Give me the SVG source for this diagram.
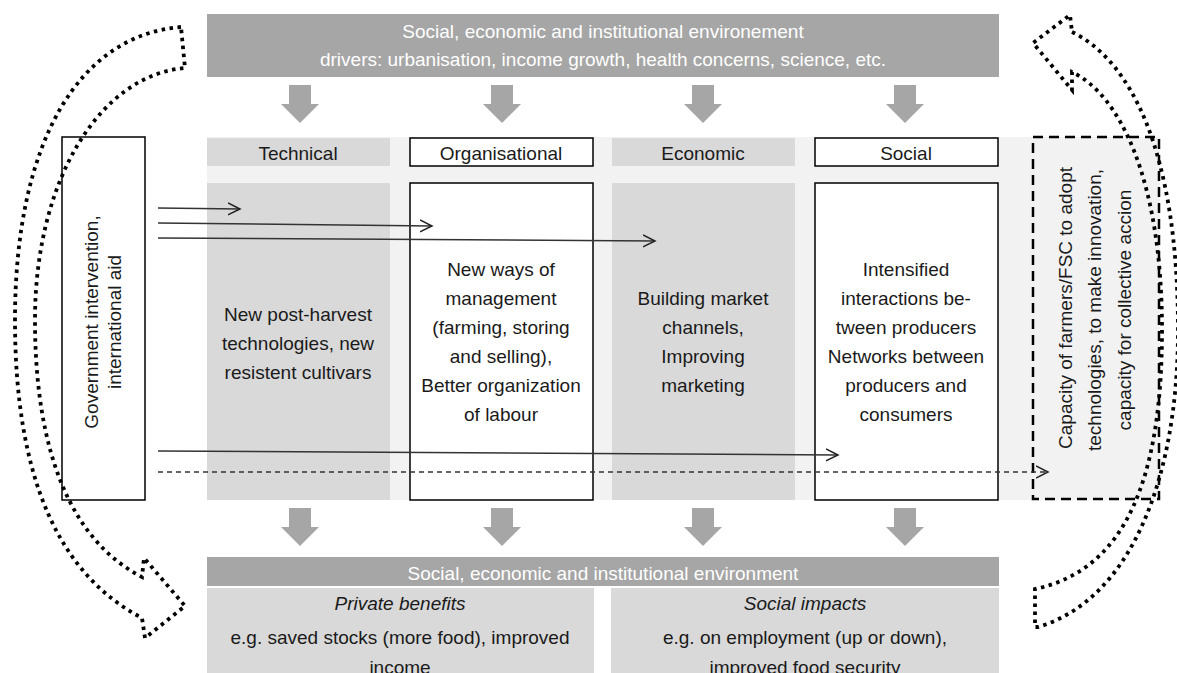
<svg xmlns="http://www.w3.org/2000/svg" width="1177" height="673" viewBox="0 0 1177 673">
<defs>
<style>
text{font-family:"Liberation Sans",Arial,sans-serif;font-size:19px;fill:#1a1a1a;text-anchor:middle}
.wt{fill:#ffffff}
.it{font-style:italic}
.band{fill:#a6a6a6}
.col{fill:#d9d9d9}
.box{fill:#ffffff;stroke:#000;stroke-width:1.5}
.strip{fill:#f2f2f2}
.conn{stroke:#333;stroke-width:1.5;fill:none}
.dash{stroke-dasharray:5 4}
.dots{fill:none;stroke:#000;stroke-width:3.8;stroke-dasharray:3.5 4.5}
</style>
<path id="blk" d="M-11,0 H11 V19 H19 L0,38 L-19,19 H-11 Z" fill="#a6a6a6"/>
<marker id="chev" markerUnits="userSpaceOnUse" markerWidth="16" markerHeight="16" refX="12" refY="6" orient="auto" viewBox="0 0 16 12">
<path d="M0,0 L12,6 L0,12" fill="none" stroke="#222" stroke-width="1.5"/>
</marker>
</defs>
<rect x="0" y="0" width="1177" height="673" fill="#ffffff"/>

<g id="top-environment">
<rect class="band" x="207" y="14" width="792" height="63"/>
<text class="wt" x="603" y="38">Social, economic and institutional environement</text>
<text class="wt" x="603" y="66">drivers: urbanisation, income growth, health concerns, science, etc.</text>
</g>

<g id="top-arrows">
<use href="#blk" x="300" y="85"/>
<use href="#blk" x="502" y="85"/>
<use href="#blk" x="703" y="85"/>
<use href="#blk" x="905" y="85"/>
</g>

<rect id="background-strip" class="strip" x="207" y="137" width="953" height="363"/>

<g id="technical">
<rect class="col" x="207" y="138" width="183" height="28"/>
<text x="298" y="160">Technical</text>
<rect class="col" x="207" y="183" width="183" height="317"/>
<text x="298" y="321">New post-harvest</text>
<text x="298" y="350">technologies, new</text>
<text x="298" y="379">resistent cultivars</text>
</g>

<g id="organisational">
<rect class="box" x="410" y="138" width="183" height="28"/>
<text x="501" y="160">Organisational</text>
<rect class="box" x="410" y="183" width="183" height="317"/>
<text x="501" y="276">New ways of</text>
<text x="501" y="305">management</text>
<text x="501" y="334">(farming, storing</text>
<text x="501" y="363">and selling),</text>
<text x="501" y="392">Better organization</text>
<text x="501" y="421">of labour</text>
</g>

<g id="economic">
<rect class="col" x="612" y="138" width="183" height="28"/>
<text x="703" y="160">Economic</text>
<rect class="col" x="612" y="183" width="183" height="317"/>
<text x="703" y="305">Building market</text>
<text x="703" y="334">channels,</text>
<text x="703" y="363">Improving</text>
<text x="703" y="392">marketing</text>
</g>

<g id="social">
<rect class="box" x="815" y="138" width="183" height="28"/>
<text x="906" y="160">Social</text>
<rect class="box" x="815" y="183" width="183" height="317"/>
<text x="906" y="276">Intensified</text>
<text x="906" y="305">interactions be-</text>
<text x="906" y="334">tween producers</text>
<text x="906" y="363">Networks between</text>
<text x="906" y="392">producers and</text>
<text x="906" y="421">consumers</text>
</g>

<g id="government">
<rect class="box" x="62" y="137" width="83" height="363"/>
<text transform="translate(98,322) rotate(-90)">Government intervention,</text>
<text transform="translate(121,322) rotate(-90)">international aid</text>
</g>

<g id="capacity">
<rect x="1033" y="137" width="126" height="362" fill="#f2f2f2" stroke="#000" stroke-width="2.5" stroke-dasharray="10 6"/>
<text transform="translate(1072,308) rotate(-90)">Capacity of farmers/FSC to adopt</text>
<text transform="translate(1101,310) rotate(-90)">technologies, to make innovation,</text>
<text transform="translate(1131,310) rotate(-90)">capacity for collective accion</text>
</g>

<g id="connectors">
<path class="conn" d="M158,208 L240,209" marker-end="url(#chev)"/>
<path class="conn" d="M158,223 L432,226" marker-end="url(#chev)"/>
<path class="conn" d="M158,238 L655,241" marker-end="url(#chev)"/>
<path class="conn" d="M158,451 L838,455" marker-end="url(#chev)"/>
<path class="conn dash" d="M158,472 L1048,472" marker-end="url(#chev)"/>
</g>

<g id="bottom-arrows">
<use href="#blk" x="300" y="508"/>
<use href="#blk" x="502" y="508"/>
<use href="#blk" x="703" y="508"/>
<use href="#blk" x="905" y="508"/>
</g>

<g id="bottom-environment">
<rect class="band" x="207" y="557" width="792" height="29"/>
<text class="wt" x="603" y="580">Social, economic and institutional environment</text>
</g>

<g id="private-benefits">
<rect class="col" x="207" y="588" width="387" height="90"/>
<text class="it" x="400" y="610">Private benefits</text>
<text x="400" y="644">e.g. saved stocks (more food), improved</text>
<text x="400" y="674">income</text>
</g>

<g id="social-impacts">
<rect class="col" x="611" y="588" width="388" height="90"/>
<text class="it" x="805" y="610">Social impacts</text>
<text x="805" y="644">e.g. on employment (up or down),</text>
<text x="805" y="674">improved food security</text>
</g>

<g id="feedback-left">
<path class="dots" d="M181,27 C80,35 15,140 15,320 C15,480 60,575 142,618 L145,638 L185,606 L144,558 L142,577 C70,540 35,450 35,320 C35,180 100,75 185,68 Z"/>
</g>

<g id="feedback-right">
<path class="dots" d="M1072,32 C1130,60 1178,150 1178,330 C1178,480 1130,600 1038,627 L1035,627 L1035,589 C1125,570 1162,480 1162,330 C1162,180 1120,95 1072,72 L1072,90 L1033,43 L1070,15 Z"/>
</g>
</svg>
